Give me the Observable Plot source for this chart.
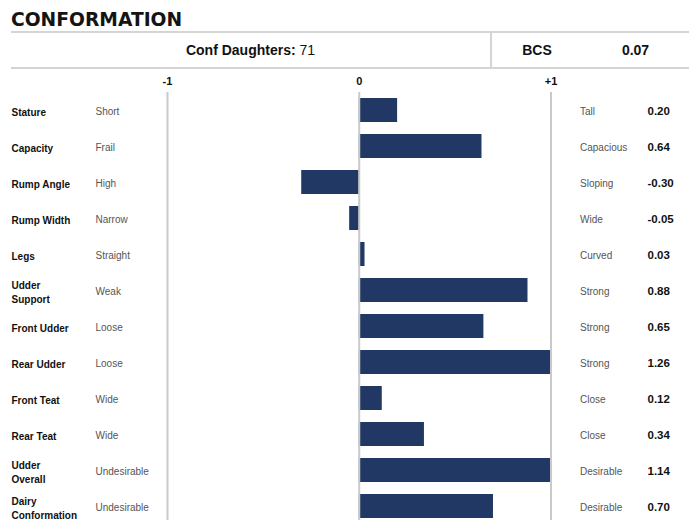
<!DOCTYPE html>
<html><head><meta charset="utf-8">
<script src="https://cdn.jsdelivr.net/npm/d3@7"></script>
<script src="https://cdn.jsdelivr.net/npm/@observablehq/plot@0.6"></script>
<style>
body{margin:0;background:#fff;font-family:"Liberation Sans",Arial,sans-serif;color:#111;}
#wrap{width:689px;position:relative;overflow:hidden;}
#title{height:21px;padding-top:10.5px;padding-left:11px;font:bold 18.7px/18px "DejaVu Sans",sans-serif;color:#141414;white-space:nowrap;box-sizing:content-box;}
#hdr{margin-left:11px;height:34px;border-top:2px solid #d4d4d4;border-bottom:2px solid #d4d4d4;display:flex;font-size:14px;line-height:34px;color:#111;}
#hdr .c1{width:479px;border-right:2px solid #d4d4d4;text-align:center;}
#hdr .c2{width:90px;text-align:center;font-weight:bold;}
#hdr .c3{flex:1;text-align:center;font-weight:bold;}
svg{display:block;}
</style>
</head><body>
<div id="wrap">
<div id="title" style="height:20.5px">CONFORMATION</div>
<div id="hdr"><div class="c1"></div><div class="c2"></div><div class="c3"></div></div>
<div id="chart"></div>
</div>
<script>
const titleText = "CONFORMATION";
const confLabel = "Conf Daughters:";
const confDaughters = 71;
const bcsLabel = "BCS";
const bcsValue = "0.07";

const traits = ["Stature","Capacity","Rump Angle","Rump Width","Legs","Udder\nSupport","Front Udder","Rear Udder","Front Teat","Rear Teat","Udder\nOverall","Dairy\nConformation"];
const lowLabels = ["Short","Frail","High","Narrow","Straight","Weak","Loose","Loose","Wide","Wide","Undesirable","Undesirable"];
const highLabels = ["Tall","Capacious","Sloping","Wide","Curved","Strong","Strong","Strong","Close","Close","Desirable","Desirable"];
const values = [0.20,0.64,-0.30,-0.05,0.03,0.88,0.65,1.26,0.12,0.34,1.14,0.70];
const axisTicks = [-1,0,1];
const axisLabels = ["-1","0","+1"];

document.querySelector("#title").textContent = titleText;
document.querySelector("#hdr .c1").innerHTML = "<b>" + confLabel + "</b> " + confDaughters;
document.querySelector("#hdr .c2").textContent = bcsLabel;
document.querySelector("#hdr .c3").textContent = bcsValue;

const rows = traits.map((t,i)=>({trait:t, low:lowLabels[i], high:highLabels[i], value:values[i], label:values[i].toFixed(2)}));

const chart = Plot.plot({
  width:689, height:461,
  marginLeft:167, marginRight:138.5, marginTop:17, marginBottom:0,
  x:{domain:[-1,1], clamp:true, axis:null},
  y:{domain:traits, axis:null, padding:1/3},
  style:{fontFamily:'"Liberation Sans", Arial, sans-serif', background:"#fff", overflow:"visible"},
  marks:[
    Plot.barX(rows,{x1:0, x2:"value", y:"trait", fill:"#213865"}),
    Plot.ruleX(axisTicks,{x:d=>d, stroke:"#c9c9c9", strokeWidth:2, insetTop:6}),
    Plot.text(axisTicks,{x:d=>d, text:(d,i)=>axisLabels[i], frameAnchor:"top", lineAnchor:"bottom", dy:-2, fontWeight:"bold", fontSize:11, fill:"#111"}),
    Plot.text(rows,{y:"trait", text:"trait", frameAnchor:"left", dx:-156, dy:1, textAnchor:"start", fontWeight:"bold", fontSize:10, lineHeight:1.35, fill:"#111"}),
    Plot.text(rows,{y:"trait", text:"low", frameAnchor:"left", dx:-72, dy:1, textAnchor:"start", fontSize:10, fill:"#555"}),
    Plot.text(rows,{y:"trait", text:"high", frameAnchor:"right", dx:29, dy:1, textAnchor:"start", fontSize:10, fill:"#555"}),
    Plot.text(rows,{y:"trait", text:"label", frameAnchor:"right", dx:96.5, dy:1, textAnchor:"start", fontWeight:"bold", fontSize:11.5, fill:"#111"})
  ]
});
document.querySelector("#chart").append(chart);
</script>
</body></html>
